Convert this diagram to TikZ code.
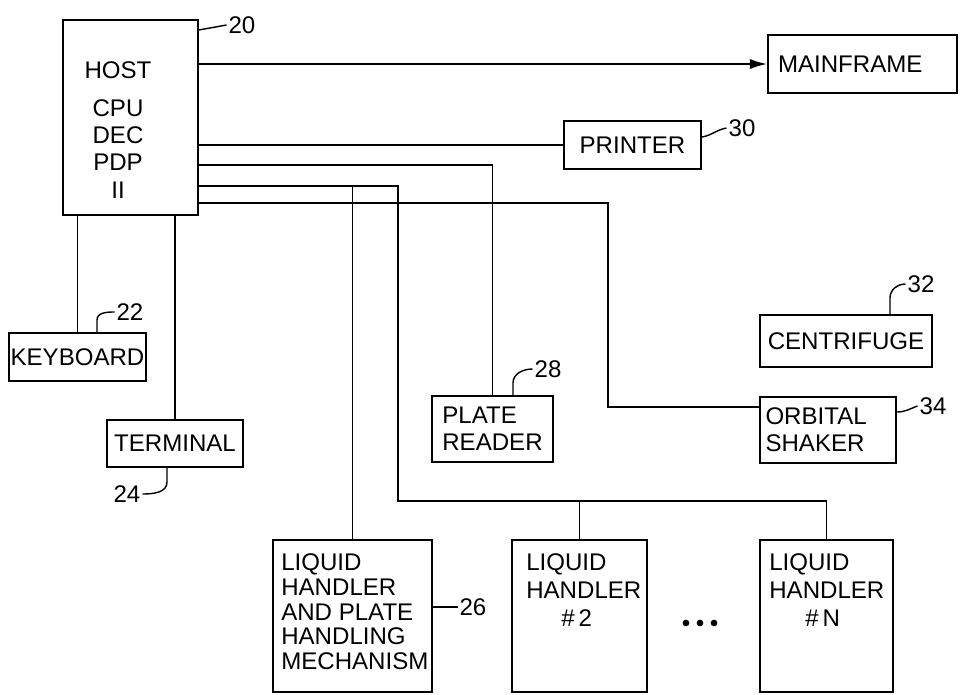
\documentclass[tikz,border=0pt]{standalone}
\usepackage{fontspec}
\setmainfont{Liberation Sans}
\usepackage{tikz}
\usetikzlibrary{arrows.meta,positioning,calc}
\newcommand{\diagfont}{\fontsize{13.7}{15.5}\selectfont}
\tikzset{box/.style={draw=black,line width=1.2pt,align=left,inner sep=0pt,font=\diagfont},
 wire/.style={line width=0.8pt},
 arr/.style={-{Latex[length=3.4mm,width=2mm]},line width=0.8pt},
 txt/.style={font=\diagfont,align=left,inner sep=0pt},
 num/.style={font=\diagfont,inner sep=1pt}}

\begin{document}
\begin{tikzpicture}[x=0.02cm,y=-0.02cm]
\useasboundingbox (0,0) rectangle (961,694);
% units are pixels of the original sheet
\node[box,minimum width=2.70cm,minimum height=3.90cm] (host) at (130.5,117.5) {};
\node[txt,align=center] at (118,130) {HOST\\[6pt]CPU\\DEC\\PDP\\II};
\node[box,minimum width=3.78cm,minimum height=1.16cm,text width=3.38cm] (main) at (862.5,64) {MAINFRAME};
\node[box,minimum width=2.74cm,minimum height=0.96cm] (printer) at (632.5,145) {PRINTER};
\node[box,minimum width=2.74cm,minimum height=0.96cm] (kbd) at (77.5,357) {KEYBOARD};
\node[box,minimum width=2.72cm,minimum height=0.94cm] (term) at (175,443.5) {TERMINAL};
\node[box,minimum width=2.42cm,minimum height=1.32cm] (reader) at (492.5,429) {PLATE\\READER};
\node[box,minimum width=3.44cm,minimum height=1.04cm] (centri) at (846,341) {CENTRIFUGE};
\node[box,minimum width=2.72cm,minimum height=1.32cm,text width=2.5cm] (shaker) at (828,430) {ORBITAL\\SHAKER};
\node[box,minimum width=3.18cm,minimum height=3.04cm] (lh1) at (352.5,616) {};
\node[box,minimum width=2.70cm,minimum height=3.04cm] (lh2) at (579.5,616) {};
\node[box,minimum width=2.66cm,minimum height=3.04cm] (lhn) at (826.5,616) {};
\node[txt,anchor=north west,font=\fontsize{13.7}{14.2}\selectfont] at ($(lh1.north west)+(9,14)$) {LIQUID\\HANDLER\\AND PLATE\\HANDLING\\MECHANISM};
\node[txt,anchor=north west,font=\fontsize{13.7}{16}\selectfont] at ($(lh2.north west)+(15,14)$) {LIQUID\\HANDLER\\\hspace*{0.7cm}\#\,2};
\node[txt,anchor=north west,font=\fontsize{13.7}{16}\selectfont] at ($(lhn.north west)+(10,14)$) {LIQUID\\HANDLER\\\hspace*{0.72cm}\#\,N};
\foreach \x in {686,700,714} \fill (\x,623) circle (1.9pt);

% connections
\draw[arr] (host.east |- main.west) -- (main.west);
\draw[wire] (host.east |- printer.west) -- (printer.west);
\draw[wire] (host.north east) ++(0,146) -| (reader.north);
\coordinate (bus) at (398,501);
\draw[wire] (host.north east) ++(0,167) coordinate (lhout) -| (bus) -| (lhn.north);
\draw[wire] (lhout -| lh1.north) -- (lh1.north);
\draw[wire] (bus -| lh2.north) -- (lh2.north);
\coordinate (sk) at (608,407);
\draw[wire] (host.north east) ++(0,184) -| (sk) -- (sk -| shaker.west);
\draw[wire] (host.south -| kbd.north) -- (kbd.north);
\draw[wire] (host.south -| term.north) -- (term.north);

% reference numerals
\node[num] (n20) at (242,25) {20};
\node[num] (n30) at (742,128) {30};
\node[num] (n22) at (130,312) {22};
\node[num] (n24) at (127,494) {24};
\node[num] (n28) at (548,369) {28};
\node[num] (n32) at (921,284) {32};
\node[num] (n34) at (933,406) {34};
\node[num] (n26) at (473,607) {26};
\draw[wire] (host.north east) ++(0,11) -- (n20.west);
\draw[wire] (printer.east) ++(0,-8) to[out=10,in=190] (n30.west);
\draw[wire] (kbd.north) ++(19.5,0) -- ++(0,-12) to[out=90,in=180] (n22.west);
\draw[wire] (term.south) ++(-8,0) -- ++(0,14) to[out=-90,in=0] (n24.east);
\draw[wire] (reader.north) ++(20.5,0) -- ++(0,-12) to[out=90,in=180] (n28.west);
\draw[wire] (centri.north) ++(44,0) -- ++(0,-16) to[out=90,in=180] (n32.west);
\draw[wire] (shaker.east) ++(0,-18) to[out=0,in=200] (n34.west);
\draw[wire] (lh1.east) ++(0,-9) -- (n26.west);
\end{tikzpicture}
\end{document}
